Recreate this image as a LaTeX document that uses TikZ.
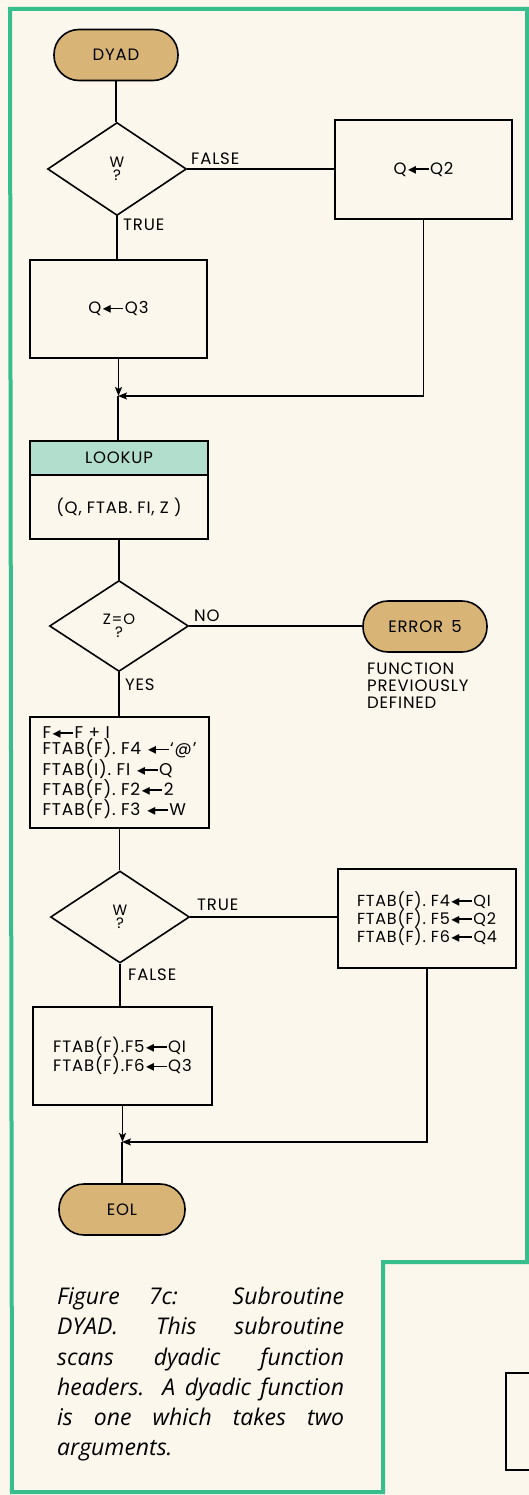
\documentclass[tikz,border=0pt]{standalone}
\usepackage{fontspec}
\setmainfont{Poppins}[LetterSpace=5]
\newfontfamily\arrowfont{DejaVu Sans}
\newfontfamily\capfont{Open Sans}
\usetikzlibrary{shapes.geometric,arrows.meta}
\definecolor{bgcol}{RGB}{251,247,236}
\definecolor{framegreen}{RGB}{55,190,140}
\definecolor{tan}{RGB}{216,180,118}
\definecolor{mint}{RGB}{178,222,206}
\newcommand\larr{\mbox{\kern1.5pt{\arrowfont\fontsize{16}{16}\selectfont ◂}\kern-2.5pt\rule[4.6pt]{15pt}{1.4pt}\kern1.5pt}}
\begin{document}
\begin{tikzpicture}[x=1pt,y=-1pt,
  every node/.style={font=\fontsize{16.5}{18}\selectfont},
  term/.style={draw, line width=1.6pt, fill=tan, rectangle, rounded corners=25pt, minimum width=124pt, minimum height=51pt, inner sep=0},
  dec/.style={draw, diamond, line width=1.6pt, minimum width=139pt, minimum height=93pt, inner sep=0, align=center, font=\fontsize{15}{13}\selectfont},
  box/.style={draw, rectangle, line width=1.6pt, inner sep=0, align=center},
  lbl/.style={anchor=west, inner sep=0},
  conn/.style={line width=1.6pt},
  arr/.style={conn, -{Stealth[length=9pt,width=7pt,inset=2pt]}}]
\useasboundingbox (0,0) rectangle (529,1495);
\fill[bgcol] (0,0) rectangle (529,1495);
% frame
\draw[framegreen, line width=4pt] (10,9) -- (527,9) -- (527,1262) -- (383,1262) -- (383,1492) -- (12,1492) -- cycle;
\draw[line width=1.6pt] (530,1373) -- (506,1373) -- (506,1470) -- (530,1470);
% nodes
\node[term] (dyad) at (116,55) {DYAD};
\node[dec] (d1) at (117,169) {W\\?};
\node[box, minimum width=177pt, minimum height=99pt] (q2) at (423.5,169.5) {Q\larr Q2};
\node[box, minimum width=177pt, minimum height=98pt] (q3) at (118.5,309) {Q\larr Q3};
\coordinate (m1) at (118,396);
\node[box, fill=mint, minimum width=178pt, minimum height=34pt] (lkh) at (119,458) {LOOKUP};
\node[box, minimum width=178pt, minimum height=64pt] (lkb) at (119,507) {(Q, FTAB. FI, Z )};
\node[dec, minimum height=91pt] (d2) at (119,626) {Z=O\\?};
\node[term] (err) at (425,626.5) {ERROR\enspace 5};
\node[anchor=north west, inner sep=0, align=left, font=\fontsize{16.5}{17}\selectfont] (note) at (367,663) {FUNCTION\\PREVIOUSLY\\DEFINED};
\node[box, minimum width=179pt, minimum height=111pt, align=left, font=\fontsize{17}{16.5}\selectfont] (b3) at (119.5,772.5)
  {F\larr F + I\\FTAB(F). F4 \larr‘@’\\FTAB(I). FI \larr Q\\FTAB(F). F2\larr 2\\FTAB(F). F3 \larr W};
\node[dec, minimum height=92pt] (d3) at (120,917) {W\\?};
\node[box, minimum width=178pt, minimum height=99pt, align=left, font=\fontsize{16}{18}\selectfont] (b4) at (427,918.5)
  {FTAB(F). F4\larr QI\\FTAB(F). F5\larr Q2\\FTAB(F). F6\larr Q4};
\node[box, minimum width=179pt, minimum height=98pt, align=left, font=\fontsize{16.5}{15.5}\selectfont] (b5) at (122.5,1056)
  {FTAB(F).F5\larr QI\\FTAB(F).F6\larr Q3};
\coordinate (m2) at (122,1142);
\node[term, minimum width=126pt] (eol) at (122,1209.5) {EOL};
% labels
\node[lbl] (lf1) at (191,159) {FALSE};
\node[lbl] (lt1) at (123,225) {TRUE};
\node[lbl] (lno) at (194,616) {NO};
\node[lbl] (lyes) at (125,685) {YES};
\node[lbl] (lt3) at (197,905) {TRUE};
\node[lbl] (lf3) at (128,975) {FALSE};
% connectors
\draw[conn] (dyad.south) -- (dyad.south |- d1.north);
\draw[conn] (d1.east) -- (d1.east -| q2.west);
\draw[conn] (d1.south) -- (d1.south |- q3.north);
\draw[arr] (q3.south) -- (q3.south |- m1);
\draw[arr] (q2.south) |- (m1);
\draw[conn] (m1) -- (m1 |- lkh.north);
\draw[conn] (lkb.south) -- (lkb.south |- d2.north);
\draw[conn] (d2.east) -- (d2.east -| err.west);
\draw[conn] (d2.south) -- (d2.south |- b3.north);
\draw[conn] (b3.south) -- (b3.south |- d3.north);
\draw[conn] (d3.east) -- (d3.east -| b4.west);
\draw[conn] (d3.south) -- (d3.south |- b5.north);
\draw[arr] (b5.south) -- (b5.south |- m2);
\draw[arr] (b4.south) |- (m2);
\draw[conn] (m2) -- (m2 |- eol.north);
% caption
\node[anchor=north west, inner sep=0, align=left, font=\capfont\itshape\fontsize{23}{30.2}\selectfont] (cap) at (57,1287)
  {\makebox[287pt][s]{Figure 7c: Subroutine}\\
   \makebox[287pt][s]{DYAD. This subroutine}\\
   \makebox[287pt][s]{scans dyadic function}\\
   \makebox[287pt][s]{headers. A dyadic function}\\
   \makebox[287pt][s]{is one which takes two}\\
   arguments.};
\end{tikzpicture}
\end{document}
